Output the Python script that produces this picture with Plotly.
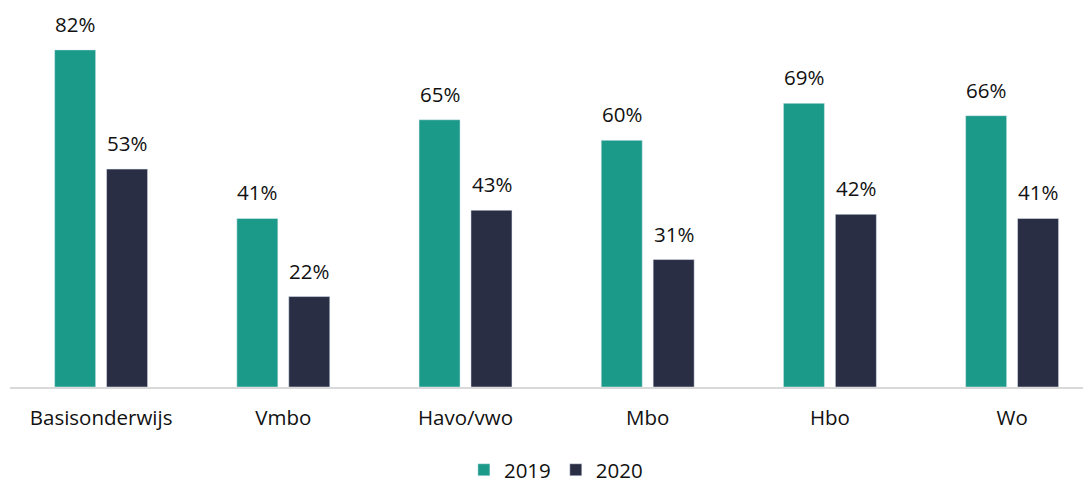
import plotly.graph_objects as go

categories = ["Basisonderwijs", "Vmbo", "Havo/vwo", "Mbo", "Hbo", "Wo"]
values_2019 = [82, 41, 65, 60, 69, 66]
values_2020 = [53, 22, 43, 31, 42, 41]

TEAL = "#1b9a8a"
NAVY = "#2a2e45"
FONT = "Open Sans"

fig = go.Figure()
fig.add_trace(go.Bar(x=categories, y=values_2019, name="2019", marker_color=TEAL))
fig.add_trace(go.Bar(x=categories, y=values_2020, name="2020", marker_color=NAVY))

# value labels above bars
for vals, shift in [(values_2019, -26), (values_2020, 26)]:
    for c, v in zip(categories, vals):
        fig.add_annotation(
            x=c, y=v, text=f"{v}%", showarrow=False,
            xshift=shift, yshift=10, yanchor="bottom",
            font=dict(family=FONT, size=20.5, color="#111111"),
        )

# page body has an 8px margin, so the figure is offset by it
fig.update_layout(
    width=1083, height=484,
    margin=dict(l=2, r=0, t=2, b=105, autoexpand=False),
    plot_bgcolor="white", paper_bgcolor="white",
    barmode="group", bargap=0.43, bargroupgap=0.21,
    font=dict(family=FONT, size=20.5, color="#111111"),
    showlegend=True,
    legend=dict(
        orientation="h", x=0.505, xanchor="center", y=-0.22, yanchor="middle",
        font=dict(family=FONT, size=20.5), itemwidth=30,
    ),
)
fig.update_xaxes(
    range=[-0.5, 5.433], showline=True, linecolor="#d9d9d9", linewidth=1.5,
    ticks="", ticklabelstandoff=12, tickfont=dict(family=FONT, size=20.5),
    automargin=False,
)
fig.update_yaxes(range=[0, 91.7], showgrid=False, showticklabels=False,
                 zeroline=False, automargin=False)

fig.write_html("out.html")
